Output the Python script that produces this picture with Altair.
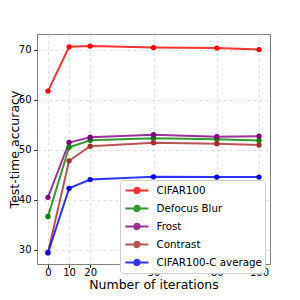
import altair as alt
import pandas as pd

iterations = [0, 10, 20, 50, 80, 100]
series_names = ["CIFAR100", "Defocus Blur", "Frost", "Contrast", "CIFAR100-C average"]
series_colors = ["red", "green", "purple", "brown", "blue"]
cifar100 = [61.7, 70.55, 70.7, 70.4, 70.3, 70.0]
defocus_blur = [36.7, 50.5, 51.9, 52.3, 52.1, 51.85]
frost = [40.5, 51.45, 52.5, 53.0, 52.6, 52.7]
contrast = [29.5, 47.8, 50.7, 51.4, 51.2, 50.95]
cifar100c_avg = [29.4, 42.3, 44.05, 44.6, 44.55, 44.55]
x_ticks = [0, 10, 20, 50, 80, 100]
y_ticks = [30, 40, 50, 60, 70]

rows = []
for i, (name, vals) in enumerate(zip(series_names, [cifar100, defocus_blur, frost, contrast, cifar100c_avg])):
    for x, v in zip(iterations, vals):
        rows.append({"iter": x, "acc": v, "series": name, "order": i})
df = pd.DataFrame(rows)

color = alt.Color(
    "series:N",
    scale=alt.Scale(domain=series_names, range=series_colors),
    sort=series_names,
    legend=alt.Legend(
        title=None,
        orient="none",
        legendX=83,
        legendY=146,
        labelFontSize=10.3,
        labelFont="DejaVu Sans",
        labelColor="black",
        symbolType="M-0.84,0H2.93M0.61,0A0.44,0.44,0,1,1,1.49,0A0.44,0.44,0,1,1,0.61,0Z",
        symbolSize=150,
        symbolStrokeWidth=2,
        rowPadding=3,
        padding=3,
        strokeColor="#d0d0d0",
        fillColor="white",
        cornerRadius=3,
        labelOffset=18.5,
    ),
)

x = alt.X("iter:Q", scale=alt.Scale(domain=[-5.2, 105.2], nice=False),
          axis=alt.Axis(values=x_ticks, title="Number of iterations", labelPadding=0, titleY=14.5))
y = alt.Y("acc:Q", scale=alt.Scale(domain=[27.2, 73.1], nice=False, zero=False),
          axis=alt.Axis(values=y_ticks, title="Test-time accuracy", labelPadding=2.5, titlePadding=-3))

base = alt.Chart(df).encode(x=x, y=y, color=color, detail="series:N", order="order:Q")
lines = base.mark_line(strokeWidth=2, opacity=0.8)
points = base.mark_point(filled=True, size=28, opacity=1)

chart = alt.layer(lines, points).properties(
    width=233, height=230,
    autosize=alt.AutoSizeParams(type="none"),
    padding={"left": 29, "top": 26, "right": 22, "bottom": 28},
).configure_view(stroke="#808080", strokeWidth=1).configure_axis(
    labelFont="DejaVu Sans", titleFont="DejaVu Sans",
    labelFontSize=10, titleFontSize=12.5, labelColor="black", titleColor="black",
    titleFontWeight="normal", grid=True, gridDash=[3, 3], gridColor="#dddddd",
    domainColor="#808080", tickColor="#333333", tickSize=3.5,
)

chart = chart.configure_axisX(labelFlush=False)

chart.save("out.html", embed_options={"renderer": "svg", "actions": False})
